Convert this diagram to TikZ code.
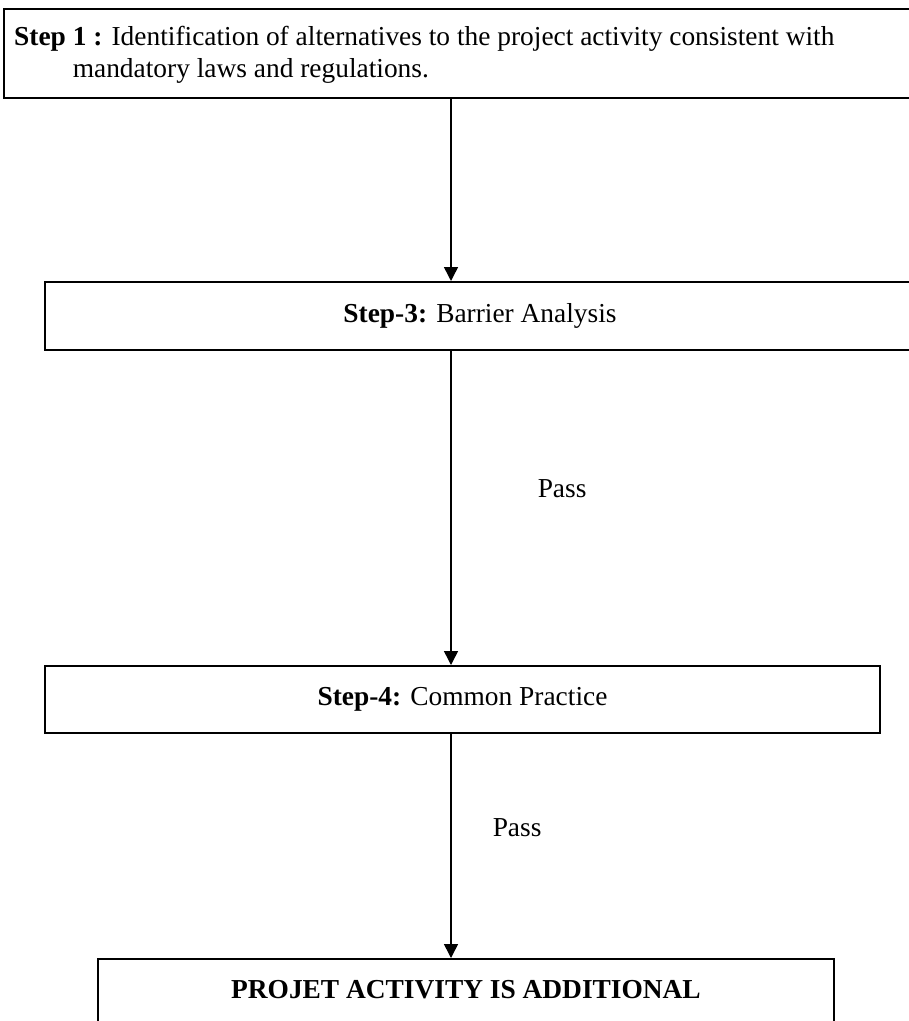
\documentclass[tikz,border=0pt]{standalone}
\usepackage{fontspec}
\setmainfont{Liberation Serif}
\usetikzlibrary{arrows.meta}
\begin{document}
\begin{tikzpicture}[x=1bp,y=-1bp,
  box/.style={draw=black,line width=2bp,rectangle,inner sep=0pt},
  txt/.style={inner sep=0pt,font=\fontsize{27.5}{32}\selectfont},
  flow/.style={line width=1.5bp,-{Triangle[width=14bp,length=14bp]}},
]
\useasboundingbox (0,0) rectangle (909,1021);
\clip (0,0) rectangle (909,1021);
% boxes
\node[box,minimum width=911bp,minimum height=89bp] (b1) at (459.5,53.5) {};
\node[txt,align=left,anchor=north west] (t1) at (14,26)
  {\textbf{Step 1 :} Identification of alternatives to the project activity consistent with\\
   \phantom{\textbf{Step }}mandatory laws and regulations.};
\node[box,minimum width=870bp,minimum height=68bp,txt] (b2) at (480,316) {\textbf{Step-3:} Barrier Analysis};
\node[box,minimum width=835bp,minimum height=67bp,txt] (b3) at (462.5,699.5) {\textbf{Step-4:} Common Practice};
\node[box,minimum width=736bp,minimum height=90bp] (b4) at (466,1004) {};
\node[txt,font=\fontsize{27.5}{32}\selectfont\bfseries] (t4) at (466,990) {PROJET ACTIVITY IS ADDITIONAL};
% connectors
\coordinate (a1) at (451,98);
\draw[flow] (a1) -- (a1 |- b2.north);
\draw[flow] (451,350) coordinate (a2) -- (a2 |- b3.north) node[pos=0.44,txt,anchor=west,xshift=86bp] (p1) {Pass};
\draw[flow] (451,733) coordinate (a3) -- (a3 |- b4.north) node[pos=0.42,txt,anchor=west,xshift=41bp] (p2) {Pass};
\end{tikzpicture}
\end{document}
